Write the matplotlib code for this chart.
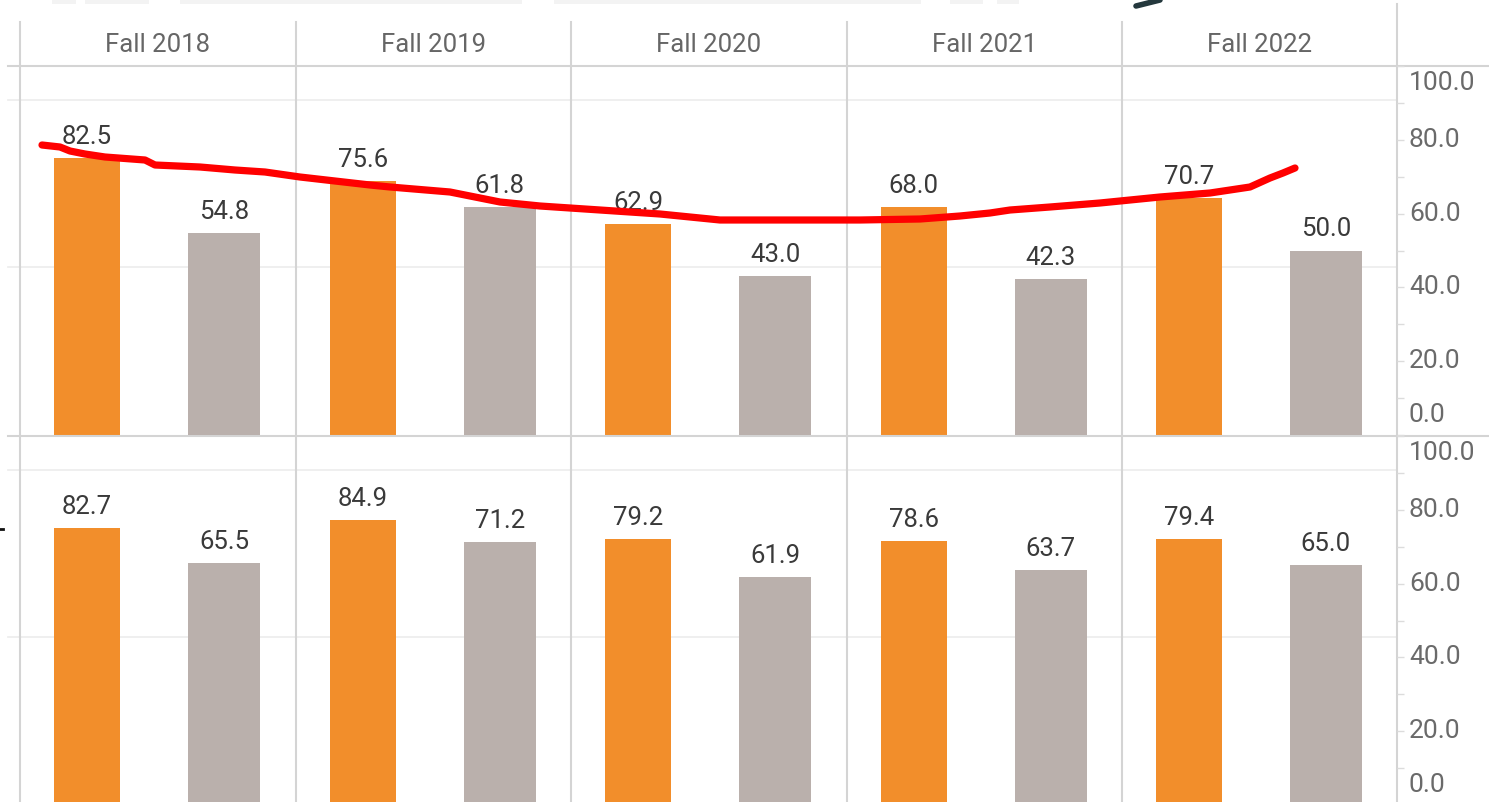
import matplotlib
matplotlib.use("Agg")
import matplotlib.pyplot as plt
from matplotlib.lines import Line2D
from matplotlib.patches import Rectangle
import matplotlib.transforms as mtransforms

plt.rcParams['font.family'] = ['Roboto', 'DejaVu Sans']

# ---------------- data ----------------
terms = ["Fall 2018", "Fall 2019", "Fall 2020", "Fall 2021", "Fall 2022"]
top_orange = [82.5, 75.6, 62.9, 68.0, 70.7]
top_gray = [54.8, 61.8, 43.0, 42.3, 50.0]
bottom_orange = [82.7, 84.9, 79.2, 78.6, 79.4]
bottom_gray = [65.5, 71.2, 61.9, 63.7, 65.0]
right_ticks = [0, 20, 40, 60, 80, 100]
right_tick_labels = ["0.0", "20.0", "40.0", "60.0", "80.0", "100.0"]
grid_vals = [50, 100]

# hand-drawn red annotation stroke over the top row (figure pixels, from top-left)
stroke_x = [42, 60, 70, 85, 105, 145, 155, 200, 235, 265, 300, 370, 390, 450, 480,
            500, 540, 600, 660, 720, 800, 860, 920, 960, 990, 1010, 1050, 1100,
            1160, 1210, 1250, 1270, 1283, 1295]
stroke_y = [145, 147, 151, 154, 157, 160, 165, 167, 170, 172, 177, 185, 187, 192, 198,
            202, 206, 210, 214, 220, 220, 220, 219, 216, 213, 210, 207, 203,
            197, 193, 187, 178, 173, 168]

# ---------------- layout ----------------
W, H = 1489, 802
fig = plt.figure(figsize=(W / 100, H / 100), dpi=100)
fig.patch.set_facecolor("white")


def fx(x):
    return x / W


def fy(y):
    return 1 - y / H


px = mtransforms.Affine2D().scale(1 / W, -1 / H).translate(0, 1) + fig.transFigure

col_edges = [20, 295.5, 571, 846.5, 1122, 1397]
row_tops = [66, 436]
panel_h = 369

ORANGE = "#F28E2B"
GRAY = "#BAB0AC"
LINE = "#d4d4d4"
GRID = "#ececec"

rows = [(top_orange, top_gray), (bottom_orange, bottom_gray)]

for r, (ovals, gvals) in enumerate(rows):
    for c in range(5):
        wpx = col_edges[c + 1] - col_edges[c]
        ax = fig.add_axes([fx(col_edges[c]), fy(row_tops[r] + panel_h), wpx / W, panel_h / H])
        ax2 = ax.twinx()
        for a in (ax, ax2):
            a.set_xlim(-0.49, 1.52)
            for s in a.spines.values():
                s.set_visible(False)
            a.set_xticks([])
            a.set_facecolor("none")
        ax.set_ylim(0, 110)
        ax2.set_ylim(0, 100)
        ax.set_yticks([])
        ax.set_zorder(1)
        ax2.set_zorder(2)

        xmin = -12 / wpx if c == 0 else 0
        for g in grid_vals:
            ax.axhline(g, xmin=xmin, xmax=1, color=GRID, lw=1.2, zorder=0, clip_on=False)

        ov = ovals[c]
        gv = gvals[c]
        ax.bar(0, ov, width=0.482, color=ORANGE, zorder=2)
        ax2.bar(1, gv, width=0.526, color=GRAY, zorder=2)
        ax.annotate(f"{ov:.1f}", (0, ov), xytext=(0, 9), textcoords="offset pixels",
                    ha="center", va="bottom", fontsize=18.5, color="#3a3a3a", zorder=5)
        ax2.annotate(f"{gv:.1f}", (1, gv), xytext=(0, 9), textcoords="offset pixels",
                     ha="center", va="bottom", fontsize=18.5, color="#3a3a3a", zorder=5)

        if c == 4:
            ax2.set_yticks(range(0, 101, 10))
            ax2.tick_params(axis="y", which="both", right=True, left=False, length=5,
                            width=1, color="#dcdcdc", labelright=False, labelleft=False)
            base = mtransforms.blended_transform_factory(ax2.transAxes, ax2.transData)
            for v, lab in zip(right_ticks, right_tick_labels):
                off = -17 if v == 100 else (20 if v == 0 else 0)
                tr = mtransforms.offset_copy(base, fig=fig, x=0, y=off, units="dots")
                ax2.text(1 + 12 / wpx, v, lab, transform=tr, ha="left", va="center",
                         fontsize=19, color="#6a6a6a", clip_on=False)
        else:
            ax2.set_yticks([])

# headers
for c, t in enumerate(terms):
    cx = (col_edges[c] + col_edges[c + 1]) / 2
    fig.text(fx(cx), fy(45), t, ha="center", va="center", fontsize=18.5, color="#666666")

# structural lines
for x in col_edges[:5]:
    fig.add_artist(Line2D([x, x], [22, 802], transform=px, color=LINE, lw=1.5))
fig.add_artist(Line2D([1397, 1397], [4, 802], transform=px, color=LINE, lw=1.5))
for y in row_tops:
    fig.add_artist(Line2D([8, W], [y, y], transform=px, color=LINE, lw=1.5))

# faint strip at the very top (cropped toolbar)
for x0, x1 in [(52, 76), (85, 149), (180, 522), (554, 921), (950, 983), (997, 1019)]:
    fig.add_artist(Rectangle((x0, 0), x1 - x0, 4, transform=px, color="#f3f3f3", lw=0))

# cropped dark arrow tip at top and tiny mark at left edge
fig.add_artist(Line2D([1136, 1160], [6, 0], transform=px, color="#24383d", lw=4,
                      solid_capstyle="round"))
fig.add_artist(Line2D([0, 3], [529, 529], transform=px, color="#111111", lw=2))

# red hand-drawn annotation
fig.add_artist(Line2D(stroke_x, stroke_y, transform=px, color="#ff0000", lw=5.2,
                      solid_capstyle="round", solid_joinstyle="round", zorder=10))

fig.savefig("out.png", dpi=100, facecolor="white")
